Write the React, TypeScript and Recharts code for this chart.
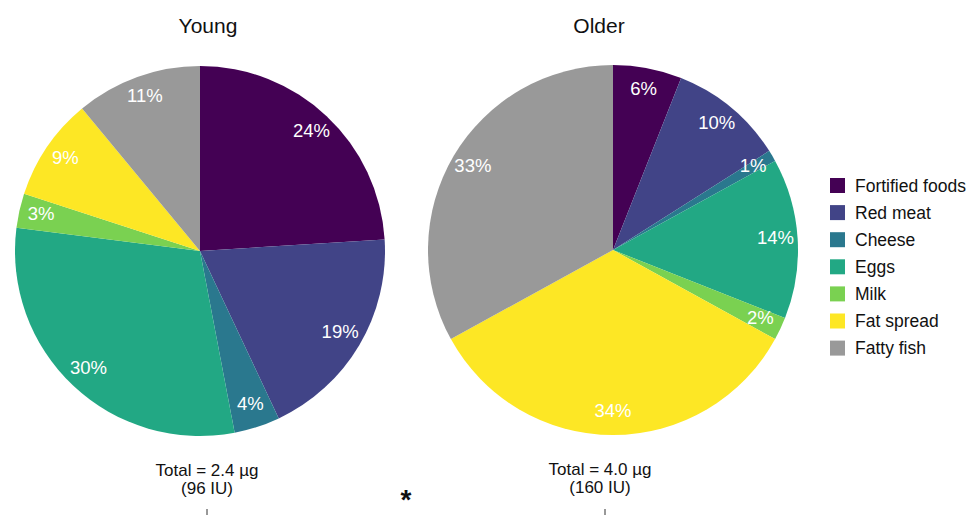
import React from 'react';
import { PieChart, Pie, Cell } from 'recharts';

const CATEGORIES = ['Fortified foods', 'Red meat', 'Cheese', 'Eggs', 'Milk', 'Fat spread', 'Fatty fish'];
const YOUNG_VALUES = [24, 19, 4, 30, 3, 9, 11];
const OLDER_VALUES = [6, 10, 1, 14, 2, 34, 33];
const COLORS = ['#440154', '#414487', '#2a788e', '#22a884', '#7ad151', '#fde725', '#999999'];

const GROUP_TITLES = ['Young', 'Older'];
const TOTAL_LINES = [
  ['Total = 2.4 µg', '(96 IU)'],
  ['Total = 4.0 µg', '(160 IU)'],
];

const youngData = CATEGORIES.map((name, i) => ({ name, value: YOUNG_VALUES[i] }));
const olderData = CATEGORIES.map((name, i) => ({ name, value: OLDER_VALUES[i] }));

const FONT = '"Liberation Sans", Arial, sans-serif';
const RAD = Math.PI / 180;

// white % labels inside each slice, near the rim
const renderLabel = (props: any) => {
  const { cx, cy, midAngle, outerRadius, value } = props;
  const r = outerRadius * 0.88;
  const x = cx + r * Math.cos(-midAngle * RAD);
  const y = cy + r * Math.sin(-midAngle * RAD) - 2;
  return (
    <text x={x} y={y} fill="#fff" textAnchor="middle" dominantBaseline="central"
      fontSize={18.5} fontFamily={FONT}>
      {value}%
    </text>
  );
};

export default function App() {
  return (
    <div style={{ position: 'absolute', left: 0, top: 0, width: 978, height: 515, background: '#fff' }}>
      <PieChart width={978} height={515} margin={{ top: 0, right: 0, bottom: 0, left: 0 }}>
        <Pie data={youngData} dataKey="value" cx={200} cy={251} outerRadius={185}
          startAngle={90} endAngle={-270} stroke="none" label={renderLabel} labelLine={false}
          isAnimationActive={false}>
          {youngData.map((d, i) => <Cell key={`y-${i}`} fill={COLORS[i]} />)}
        </Pie>
        <Pie data={olderData} dataKey="value" cx={613} cy={250} outerRadius={185}
          startAngle={90} endAngle={-270} stroke="none" label={renderLabel} labelLine={false}
          isAnimationActive={false}>
          {olderData.map((d, i) => <Cell key={`o-${i}`} fill={COLORS[i]} />)}
        </Pie>
      </PieChart>
      <svg width={978} height={515} style={{ position: 'absolute', left: 0, top: 0, pointerEvents: 'none' }}
        fontFamily={FONT}>
        <text x={208} y={33} textAnchor="middle" fontSize={21} fill="#111">{GROUP_TITLES[0]}</text>
        <text x={599} y={33} textAnchor="middle" fontSize={21} fill="#111">{GROUP_TITLES[1]}</text>

        <text x={207} y={476} textAnchor="middle" fontSize={17} fill="#111">{TOTAL_LINES[0][0]}</text>
        <text x={207} y={494} textAnchor="middle" fontSize={17} fill="#111">{TOTAL_LINES[0][1]}</text>
        <text x={600} y={475} textAnchor="middle" fontSize={17} fill="#111">{TOTAL_LINES[1][0]}</text>
        <text x={600} y={493} textAnchor="middle" fontSize={17} fill="#111">{TOTAL_LINES[1][1]}</text>

        <text x={406} y={509} textAnchor="middle" fontSize={28} fontWeight="bold" fill="#111">*</text>
        <line x1={207} y1={509} x2={207} y2={515} stroke="#333" strokeWidth={1} />
        <line x1={605} y1={509} x2={605} y2={515} stroke="#333" strokeWidth={1} />

        {CATEGORIES.map((name, i) => {
          const cy = 185.5 + i * 27.1;
          return (
            <g key={name}>
              <rect x={830} y={cy - 7.5} width={15} height={15} fill={COLORS[i]} />
              <text x={855} y={cy + 6} fontSize={17.5} fill="#111">{name}</text>
            </g>
          );
        })}
      </svg>
    </div>
  );
}
